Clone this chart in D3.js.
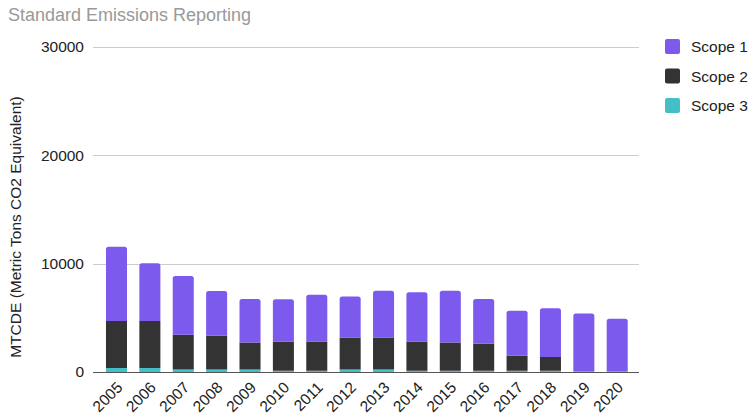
<!DOCTYPE html>
<html lang="en">
<head>
    <meta charset="UTF-8">
    <title>Standard Emissions Reporting</title>
    <script src="https://d3js.org/d3.v7.min.js"></script>
    <style>
        body { margin: 0; font-family: Arial, "Liberation Sans", sans-serif; background: #fff; }
    </style>
</head>
<body>
    <script>
        // Data
        const years = ["2005", "2006", "2007", "2008", "2009", "2010", "2011", "2012",
                       "2013", "2014", "2015", "2016", "2017", "2018", "2019", "2020"];
        const scope1 = [6870, 5340, 5430, 4140, 4000, 3900, 4300, 3780, 4300, 4550, 4760, 4140, 4150, 4510, 5300, 4810];
        const scope2 = [4320, 4320, 3200, 3110, 2500, 2700, 2700, 2960, 2960, 2700, 2610, 2490, 1380, 1260, 0, 0];
        const scope3 = [380, 380, 230, 230, 230, 120, 120, 230, 230, 120, 120, 120, 120, 120, 100, 100];
        const yTicks = [0, 10000, 20000, 30000];
        const seriesNames = ["Scope 1", "Scope 2", "Scope 3"];
        const colors = ["#7c5aee", "#333333", "#44bec7"];

        const W = 749, H = 415;
        const fontSize = "15.5px";
        const svg = d3.select("body").append("svg")
            .attr("width", W)
            .attr("height", H);

        // stack bottom-up: scope 3, scope 2, scope 1
        const rows = years.map((y, i) => ({ year: y, s3: scope3[i], s2: scope2[i], s1: scope1[i] }));
        const stack = d3.stack().keys(["s3", "s2", "s1"])(rows);
        const colorOf = { s1: colors[0], s2: colors[1], s3: colors[2] };

        const x = d3.scaleBand()
            .domain(years)
            .range([99.8, 633.9])
            .paddingInner(0.37)
            .paddingOuter(0.185);

        const y = d3.scaleLinear()
            .domain([0, 30000])
            .range([372, 47]);

        // gridlines
        svg.append("g")
            .selectAll("line")
            .data(yTicks.filter(d => d > 0))
            .join("line")
            .attr("x1", 93).attr("x2", 639)
            .attr("y1", d => Math.round(y(d)) + 0.5)
            .attr("y2", d => Math.round(y(d)) + 0.5)
            .attr("stroke", "#cccccc");

        // y axis labels
        const yAxis = svg.append("g")
            .attr("transform", "translate(93,0)")
            .call(d3.axisLeft(y).tickValues(yTicks).tickSize(0).tickPadding(9).tickFormat(d3.format("d")));
        yAxis.select(".domain").remove();
        yAxis.selectAll("text")
            .attr("fill", "#222")
            .style("font-size", fontSize)
            .style("font-family", "Arial, 'Liberation Sans', sans-serif");

        // bars, top segment gets rounded corners
        const topKey = rows.map(r => r.s1 > 0 ? "s1" : (r.s2 > 0 ? "s2" : "s3"));
        stack.forEach(layer => {
            svg.append("g")
                .selectAll("path")
                .data(layer.map((d, i) => ({ y0: d[0], y1: d[1], year: years[i], top: topKey[i] === layer.key })))
                .join("path")
                .attr("fill", colorOf[layer.key])
                .attr("d", d => {
                    const x0 = x(d.year), w = x.bandwidth();
                    const yt = y(d.y1), yb = y(d.y0);
                    if (yb - yt <= 0) return "";
                    const r = d.top ? Math.min(2.5, yb - yt) : 0;
                    return `M${x0},${yb}V${yt + r}Q${x0},${yt} ${x0 + r},${yt}H${x0 + w - r}Q${x0 + w},${yt} ${x0 + w},${yt + r}V${yb}Z`;
                });
        });

        // baseline
        svg.append("line")
            .attr("x1", 93).attr("x2", 639)
            .attr("y1", 372.5).attr("y2", 372.5)
            .attr("stroke", "#555")
            .attr("stroke-width", 1.2);

        // x axis labels
        const xAxis = svg.append("g")
            .attr("transform", "translate(0,372)")
            .call(d3.axisBottom(x).tickSize(0).tickPadding(0));
        xAxis.select(".domain").remove();
        xAxis.selectAll("text")
            .attr("fill", "#222")
            .style("font-size", fontSize)
            .style("font-family", "Arial, 'Liberation Sans', sans-serif")
            .style("text-anchor", "end")
            .attr("dy", null)
            .attr("y", 0)
            .attr("transform", "translate(7,16.5) rotate(-45)");

        // y axis title
        svg.append("text")
            .attr("transform", "translate(20.5,227) rotate(-90)")
            .attr("text-anchor", "middle")
            .style("font-size", fontSize)
            .attr("fill", "#222")
            .text("MTCDE (Metric Tons CO2 Equivalent)");

        // title
        svg.append("text")
            .attr("x", 8)
            .attr("y", 21)
            .style("font-size", "18px")
            .attr("fill", "#999")
            .text("Standard Emissions Reporting");

        // legend
        const legend = svg.append("g")
            .selectAll("g")
            .data(seriesNames)
            .join("g")
            .attr("transform", (d, i) => `translate(665,${39 + i * 29.5})`);
        legend.append("rect")
            .attr("width", 15).attr("height", 15)
            .attr("rx", 2)
            .attr("fill", (d, i) => colors[i]);
        legend.append("text")
            .attr("x", 26)
            .attr("y", 13)
            .style("font-size", fontSize)
            .attr("fill", "#222")
            .text(d => d);
    </script>
</body>
</html>
